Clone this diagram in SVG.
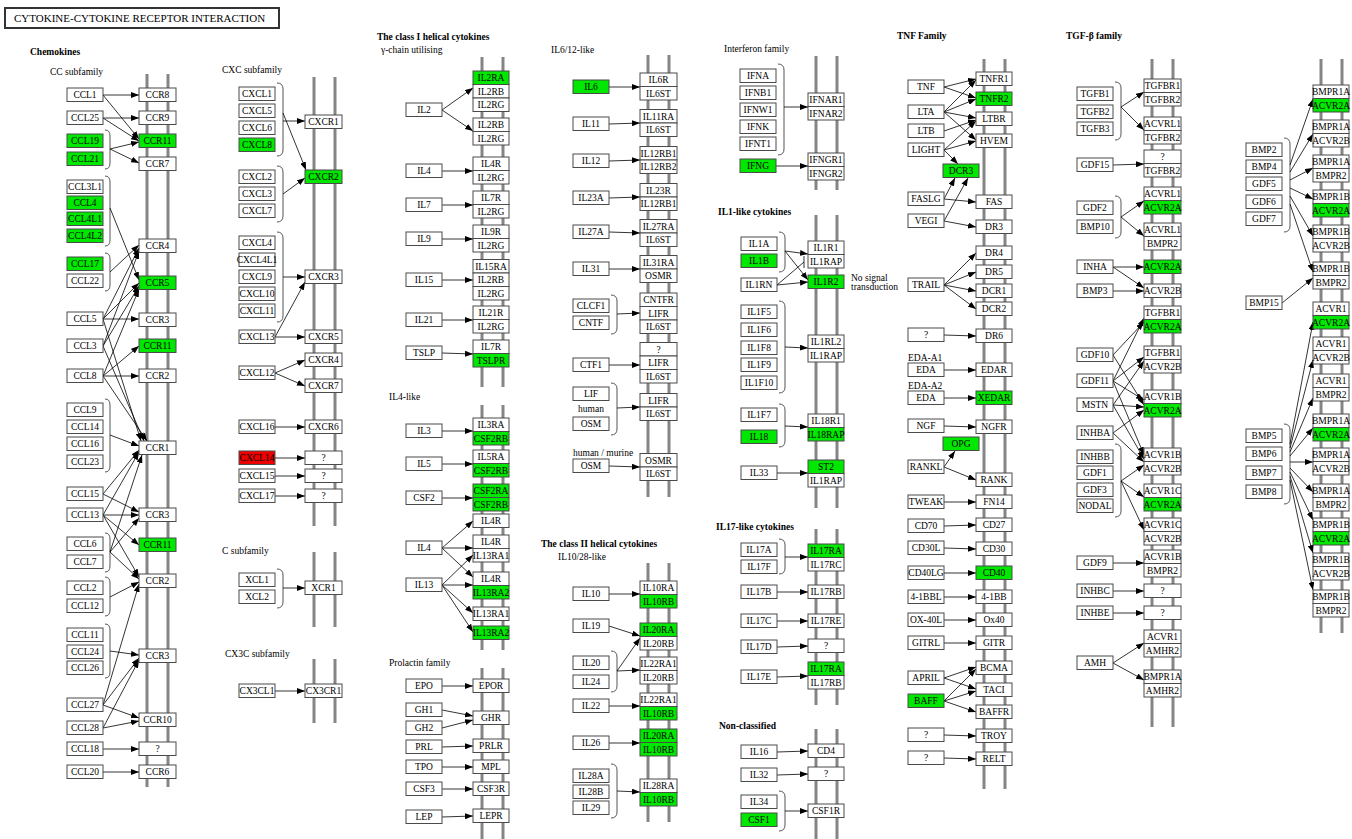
<svg xmlns="http://www.w3.org/2000/svg" width="1352" height="839" viewBox="0 0 1352 839">
<style>
rect{fill:#fff;stroke:#4a4a4a;stroke-width:1}
.g rect{fill:#00e800}
.r rect{fill:#ee0000}
text{font-family:"Liberation Serif",serif;font-size:9.5px;text-anchor:middle;fill:#000}
.lb{text-anchor:start}
.bd{text-anchor:start;font-weight:bold}
#connectors line{stroke:#000;stroke-width:0.8;marker-end:url(#ah)}
#connectors line.inh{marker-end:none}
.br path{stroke:#555;fill:none;stroke-width:1}
.mem line{stroke:#858585;stroke-width:3}
</style>
<defs>
<marker id="ah" markerWidth="8" markerHeight="6" refX="8" refY="3" orient="auto" markerUnits="userSpaceOnUse"><path d="M0,0L8,3L0,6z" fill="#000"/></marker>
</defs>
<rect width="1352" height="839" style="fill:#fff;stroke:none"/>
<g id="title"><rect x="5" y="8" width="274" height="20" style="stroke:#333;stroke-width:2"/><text class="lb" x="14" y="22" style="font-size:11px">CYTOKINE-CYTOKINE RECEPTOR INTERACTION</text></g>
<g id="labels">
<text class="bd" x="30" y="55">Chemokines</text>
<text class="lb" x="50" y="75">CC subfamily</text>
<text class="lb" x="222" y="73">CXC subfamily</text>
<text class="lb" x="222" y="554">C subfamily</text>
<text class="lb" x="225" y="657">CX3C subfamily</text>
<text class="bd" x="377" y="40">The class I helical cytokines</text>
<text class="lb" x="381" y="53">γ-chain utilising</text>
<text class="lb" x="389" y="400">IL4-like</text>
<text class="lb" x="389" y="666">Prolactin family</text>
<text class="lb" x="551" y="53">IL6/12-like</text>
<text x="591" y="412">human</text>
<text class="lb" x="573" y="456">human / murine</text>
<text class="bd" x="541" y="547">The class II helical cytokines</text>
<text class="lb" x="558" y="560">IL10/28-like</text>
<text class="lb" x="724" y="52">Interferon family</text>
<text class="bd" x="718" y="215">IL1-like cytokines</text>
<text class="lb" x="851" y="281">No signal</text>
<text class="lb" x="851" y="290">transduction</text>
<text class="bd" x="716" y="530">IL17-like cytokines</text>
<text class="bd" x="719" y="729">Non-classified</text>
<text class="bd" x="897" y="39">TNF Family</text>
<text class="lb" x="908" y="361">EDA-A1</text>
<text class="lb" x="908" y="389">EDA-A2</text>
<text class="bd" x="1066" y="39">TGF-β family</text>
</g>
<g class="mem" id="membranes">
<line x1="147" y1="74" x2="147" y2="787"/><line x1="168" y1="74" x2="168" y2="787"/>
<line x1="314" y1="77" x2="314" y2="526"/><line x1="335" y1="77" x2="335" y2="526"/>
<line x1="314" y1="552" x2="314" y2="627"/><line x1="335" y1="552" x2="335" y2="627"/>
<line x1="314" y1="659" x2="314" y2="723"/><line x1="335" y1="659" x2="335" y2="723"/>
<line x1="482" y1="57" x2="482" y2="387"/><line x1="503" y1="57" x2="503" y2="387"/>
<line x1="482" y1="405" x2="482" y2="650"/><line x1="503" y1="405" x2="503" y2="650"/>
<line x1="482" y1="668" x2="482" y2="839"/><line x1="503" y1="668" x2="503" y2="839"/>
<line x1="648" y1="55" x2="648" y2="497"/><line x1="669" y1="55" x2="669" y2="497"/>
<line x1="648" y1="563" x2="648" y2="822"/><line x1="669" y1="563" x2="669" y2="822"/>
<line x1="816" y1="56" x2="816" y2="190"/><line x1="837" y1="56" x2="837" y2="190"/>
<line x1="816" y1="215" x2="816" y2="508"/><line x1="837" y1="215" x2="837" y2="508"/>
<line x1="816" y1="529" x2="816" y2="705"/><line x1="837" y1="529" x2="837" y2="705"/>
<line x1="816" y1="729" x2="816" y2="839"/><line x1="837" y1="729" x2="837" y2="839"/>
<line x1="984" y1="59" x2="984" y2="789"/><line x1="1005" y1="59" x2="1005" y2="789"/>
<line x1="1152" y1="59" x2="1152" y2="727"/><line x1="1173" y1="59" x2="1173" y2="727"/>
<line x1="1321" y1="59" x2="1321" y2="633"/><line x1="1342" y1="59" x2="1342" y2="633"/>
</g>
<g class="br" id="brackets">
<path d="M105,130Q110,130 110,136V163Q110,169 105,169"/>
<path d="M105,176Q110,176 110,182V240Q110,246 105,246"/>
<path d="M105,253Q110,253 110,259V285Q110,291 105,291"/>
<path d="M105,399Q110,399 110,405V466Q110,472 105,472"/>
<path d="M105,533Q110,533 110,539V566Q110,572 105,572"/>
<path d="M105,577Q110,577 110,583V610Q110,616 105,616"/>
<path d="M105,624Q110,624 110,630V672Q110,678 105,678"/>
<path d="M277,83Q283,83 283,89V150Q283,156 277,156"/>
<path d="M277,166Q283,166 283,172V216Q283,222 277,222"/>
<path d="M277,232Q283,232 283,238V316Q283,322 277,322"/>
<path d="M277,569Q283,569 283,575V602Q283,608 277,608"/>
<path d="M611,295Q617,295 617,301V328Q617,334 611,334"/>
<path d="M611,383Q617,383 617,389V429Q617,435 611,435"/>
<path d="M611,651Q617,651 617,657V686Q617,692 611,692"/>
<path d="M611,764Q617,764 617,770V812Q617,818 611,818"/>
<path d="M778,64Q784,64 784,70V149Q784,155 778,155"/>
<path d="M779,232Q785,232 785,238V266Q785,272 779,272"/>
<path d="M779,301Q785,301 785,307V387Q785,393 779,393"/>
<path d="M779,404Q785,404 785,410V441Q785,447 779,447"/>
<path d="M779,539Q785,539 785,545V568Q785,574 779,574"/>
<path d="M779,791Q785,791 785,797V825Q785,831 779,831"/>
<path d="M1115,82Q1121,82 1121,88V134Q1121,140 1115,140"/>
<path d="M1115,196Q1121,196 1121,202V232Q1121,238 1115,238"/>
<path d="M1115,444Q1121,444 1121,450V511Q1121,517 1115,517"/>
<path d="M1284,138Q1290,138 1290,144V226Q1290,232 1284,232"/>
<path d="M1284,424Q1290,424 1290,430V498Q1290,504 1284,504"/>
</g>
<g id="connectors">
<line x1="103" y1="95" x2="139" y2="95"/><line x1="103" y1="95" x2="139" y2="139"/>
<line x1="103" y1="118" x2="139" y2="118"/><line x1="103" y1="118" x2="139" y2="141"/>
<line x1="110" y1="149" x2="139" y2="142"/><line x1="110" y1="149" x2="139" y2="163"/>
<line x1="110" y1="208" x2="139" y2="280"/><line x1="110" y1="272" x2="139" y2="245"/>
<line x1="103" y1="319" x2="139" y2="319"/><line x1="103" y1="319" x2="139" y2="248"/><line x1="103" y1="319" x2="139" y2="283"/><line x1="103" y1="319" x2="141" y2="441"/>
<line x1="103" y1="346" x2="139" y2="251"/><line x1="103" y1="346" x2="139" y2="286"/><line x1="103" y1="346" x2="144" y2="441"/>
<line x1="103" y1="376" x2="139" y2="376"/><line x1="103" y1="376" x2="139" y2="346"/><line x1="103" y1="376" x2="139" y2="289"/><line x1="103" y1="376" x2="147" y2="441"/>
<line x1="110" y1="435" x2="139" y2="446"/>
<line x1="103" y1="494" x2="139" y2="450"/><line x1="103" y1="494" x2="139" y2="512"/>
<line x1="103" y1="515" x2="139" y2="452"/><line x1="103" y1="515" x2="139" y2="515"/><line x1="103" y1="515" x2="139" y2="545"/><line x1="103" y1="515" x2="139" y2="577"/>
<line x1="110" y1="552" x2="142" y2="455"/><line x1="110" y1="552" x2="139" y2="518"/><line x1="110" y1="552" x2="139" y2="579"/>
<line x1="110" y1="597" x2="139" y2="582"/><line x1="110" y1="651" x2="139" y2="655"/>
<line x1="103" y1="705" x2="139" y2="584"/><line x1="103" y1="705" x2="139" y2="658"/><line x1="103" y1="705" x2="139" y2="718"/>
<line x1="103" y1="728" x2="139" y2="660"/><line x1="103" y1="728" x2="139" y2="721"/>
<line x1="103" y1="749" x2="139" y2="749"/><line x1="103" y1="772" x2="139" y2="772"/>
<line x1="283" y1="121" x2="305" y2="121"/><line x1="283" y1="113" x2="306" y2="170"/><line x1="283" y1="194" x2="305" y2="178"/><line x1="283" y1="277" x2="305" y2="277"/>
<line x1="275" y1="337" x2="305" y2="337"/><line x1="275" y1="337" x2="305" y2="282"/>
<line x1="275" y1="373" x2="305" y2="360"/><line x1="275" y1="373" x2="305" y2="386"/>
<line x1="275" y1="427" x2="305" y2="427"/><line x1="275" y1="458" x2="305" y2="458"/><line x1="275" y1="476" x2="305" y2="476"/><line x1="275" y1="496" x2="305" y2="496"/>
<line x1="283" y1="588" x2="305" y2="588"/><line x1="275" y1="691" x2="305" y2="691"/>
<line x1="442" y1="110" x2="473" y2="88"/><line x1="442" y1="110" x2="473" y2="131"/>
<line x1="442" y1="171" x2="473" y2="171"/><line x1="442" y1="205" x2="473" y2="205"/><line x1="442" y1="239" x2="473" y2="239"/><line x1="442" y1="280" x2="473" y2="280"/><line x1="442" y1="320" x2="473" y2="320"/><line x1="442" y1="353" x2="473" y2="354"/>
<line x1="442" y1="431" x2="473" y2="431"/><line x1="442" y1="464" x2="473" y2="464"/><line x1="442" y1="498" x2="473" y2="498"/>
<line x1="442" y1="548" x2="473" y2="521"/><line x1="442" y1="548" x2="473" y2="548"/><line x1="442" y1="548" x2="473" y2="577"/>
<line x1="442" y1="585" x2="473" y2="555"/><line x1="442" y1="585" x2="473" y2="585"/><line x1="442" y1="585" x2="473" y2="613"/><line x1="442" y1="585" x2="473" y2="632"/>
<line x1="442" y1="686" x2="473" y2="686"/><line x1="442" y1="710" x2="473" y2="716"/><line x1="442" y1="728" x2="473" y2="720"/><line x1="442" y1="747" x2="473" y2="746"/><line x1="442" y1="767" x2="473" y2="767"/><line x1="442" y1="789" x2="473" y2="789"/><line x1="442" y1="817" x2="473" y2="816"/>
<line x1="609" y1="87" x2="640" y2="87"/><line x1="609" y1="124" x2="640" y2="123"/><line x1="609" y1="161" x2="640" y2="160"/><line x1="609" y1="198" x2="640" y2="197"/><line x1="609" y1="232" x2="640" y2="233"/><line x1="609" y1="269" x2="640" y2="269"/>
<line x1="617" y1="314" x2="640" y2="313"/><line x1="609" y1="365" x2="640" y2="365"/><line x1="617" y1="408" x2="640" y2="407"/><line x1="609" y1="466" x2="640" y2="467"/>
<line x1="609" y1="594" x2="640" y2="594"/><line x1="609" y1="626" x2="640" y2="636"/><line x1="617" y1="671" x2="640" y2="638"/><line x1="617" y1="671" x2="640" y2="670"/><line x1="609" y1="706" x2="640" y2="706"/><line x1="609" y1="743" x2="640" y2="743"/><line x1="617" y1="791" x2="640" y2="792"/>
<line x1="784" y1="107" x2="808" y2="107"/><line x1="776" y1="166" x2="808" y2="166"/>
<line x1="785" y1="251" x2="808" y2="254"/><line x1="785" y1="251" x2="808" y2="280"/><line x1="777" y1="285" x2="808" y2="282"/>
<line class="inh" x1="777" y1="285" x2="804" y2="262"/><line class="inh" x1="804" y1="256" x2="804" y2="268"/>
<line x1="785" y1="347" x2="808" y2="348"/><line x1="785" y1="426" x2="808" y2="427"/><line x1="777" y1="473" x2="808" y2="473"/>
<line x1="785" y1="557" x2="808" y2="557"/><line x1="777" y1="592" x2="808" y2="592"/><line x1="777" y1="621" x2="808" y2="621"/><line x1="777" y1="647" x2="808" y2="646"/><line x1="777" y1="677" x2="808" y2="676"/>
<line x1="777" y1="752" x2="808" y2="751"/><line x1="777" y1="775" x2="808" y2="774"/><line x1="785" y1="811" x2="808" y2="811"/>
<line x1="944" y1="87" x2="976" y2="79"/><line x1="944" y1="87" x2="976" y2="98"/>
<line x1="944" y1="112" x2="976" y2="80"/><line x1="944" y1="112" x2="976" y2="99"/><line x1="944" y1="112" x2="976" y2="118"/><line x1="944" y1="112" x2="976" y2="140"/>
<line x1="944" y1="131" x2="976" y2="120"/>
<line x1="944" y1="150" x2="976" y2="121"/><line x1="944" y1="150" x2="976" y2="141"/><line x1="944" y1="150" x2="958" y2="164"/>
<line x1="944" y1="199" x2="955" y2="178"/><line x1="944" y1="199" x2="976" y2="202"/>
<line x1="944" y1="221" x2="968" y2="178"/><line x1="944" y1="221" x2="976" y2="227"/>
<line x1="944" y1="285" x2="976" y2="253"/><line x1="944" y1="285" x2="976" y2="272"/><line x1="944" y1="285" x2="976" y2="291"/><line x1="944" y1="285" x2="976" y2="309"/>
<line x1="944" y1="335" x2="976" y2="336"/><line x1="944" y1="370" x2="976" y2="370"/><line x1="944" y1="398" x2="976" y2="398"/><line x1="944" y1="426" x2="976" y2="427"/>
<line x1="944" y1="467" x2="955" y2="451"/><line x1="944" y1="467" x2="976" y2="480"/>
<line x1="944" y1="502" x2="976" y2="502"/><line x1="944" y1="526" x2="976" y2="525"/><line x1="944" y1="548" x2="976" y2="549"/><line x1="944" y1="573" x2="976" y2="573"/><line x1="944" y1="597" x2="976" y2="597"/><line x1="944" y1="620" x2="976" y2="620"/><line x1="944" y1="643" x2="976" y2="643"/>
<line x1="944" y1="678" x2="976" y2="667"/><line x1="944" y1="678" x2="976" y2="689"/>
<line x1="944" y1="701" x2="976" y2="669"/><line x1="944" y1="701" x2="976" y2="691"/><line x1="944" y1="701" x2="976" y2="712"/>
<line x1="944" y1="735" x2="976" y2="736"/><line x1="944" y1="758" x2="976" y2="759"/>
<line x1="1121" y1="107" x2="1144" y2="92"/><line x1="1121" y1="107" x2="1144" y2="130"/>
<line x1="1113" y1="165" x2="1144" y2="164"/>
<line x1="1121" y1="217" x2="1144" y2="201"/><line x1="1121" y1="217" x2="1144" y2="236"/>
<line x1="1113" y1="267" x2="1144" y2="267"/><line x1="1113" y1="267" x2="1144" y2="288"/><line x1="1113" y1="291" x2="1144" y2="291"/>
<line x1="1113" y1="355" x2="1144" y2="322"/><line x1="1113" y1="355" x2="1144" y2="405"/>
<line x1="1113" y1="381" x2="1144" y2="318"/><line x1="1113" y1="381" x2="1144" y2="357"/><line x1="1113" y1="381" x2="1144" y2="400"/><line x1="1113" y1="381" x2="1144" y2="455"/>
<line x1="1113" y1="405" x2="1144" y2="361"/><line x1="1113" y1="405" x2="1144" y2="407"/><line x1="1113" y1="405" x2="1144" y2="459"/>
<line x1="1113" y1="433" x2="1144" y2="410"/><line x1="1113" y1="433" x2="1144" y2="462"/>
<line x1="1121" y1="481" x2="1144" y2="465"/><line x1="1121" y1="481" x2="1144" y2="497"/><line x1="1121" y1="481" x2="1144" y2="530"/>
<line x1="1113" y1="563" x2="1144" y2="563"/><line x1="1113" y1="591" x2="1144" y2="591"/><line x1="1113" y1="613" x2="1144" y2="613"/>
<line x1="1113" y1="663" x2="1144" y2="643"/><line x1="1113" y1="663" x2="1144" y2="680"/>
<line x1="1290" y1="165" x2="1313" y2="99"/><line x1="1290" y1="172" x2="1313" y2="134"/><line x1="1290" y1="180" x2="1313" y2="168"/><line x1="1290" y1="188" x2="1313" y2="199"/><line x1="1290" y1="196" x2="1313" y2="236"/><line x1="1290" y1="204" x2="1313" y2="272"/>
<line x1="1282" y1="303" x2="1313" y2="278"/>
<line x1="1290" y1="444" x2="1313" y2="322"/><line x1="1290" y1="448" x2="1313" y2="360"/><line x1="1290" y1="452" x2="1313" y2="398"/><line x1="1290" y1="456" x2="1313" y2="428"/><line x1="1290" y1="462" x2="1313" y2="462"/><line x1="1290" y1="468" x2="1313" y2="492"/><line x1="1290" y1="472" x2="1313" y2="520"/><line x1="1290" y1="476" x2="1313" y2="553"/><line x1="1290" y1="480" x2="1313" y2="590"/>
</g>
<g id="nodes">
<g id="CCL1"><rect x="67" y="88" width="36" height="13.5"/><text x="85" y="98">CCL1</text></g>
<g id="CCL25"><rect x="67" y="111" width="36" height="13.5"/><text x="85" y="121">CCL25</text></g>
<g id="CCL19" class="g"><rect x="67" y="134" width="36" height="13.5"/><text x="85" y="144">CCL19</text></g>
<g id="CCL21" class="g"><rect x="67" y="152" width="36" height="13.5"/><text x="85" y="162">CCL21</text></g>
<g id="CCL3L1"><rect x="67" y="180" width="36" height="13.5"/><text x="85" y="190">CCL3L1</text></g>
<g id="CCL4" class="g"><rect x="67" y="196" width="36" height="13.5"/><text x="85" y="206">CCL4</text></g>
<g id="CCL4L1" class="g"><rect x="67" y="212" width="36" height="13.5"/><text x="85" y="222">CCL4L1</text></g>
<g id="CCL4L2" class="g"><rect x="67" y="229" width="36" height="13.5"/><text x="85" y="239">CCL4L2</text></g>
<g id="CCL17" class="g"><rect x="67" y="257" width="36" height="13.5"/><text x="85" y="267">CCL17</text></g>
<g id="CCL22"><rect x="67" y="274" width="36" height="13.5"/><text x="85" y="284">CCL22</text></g>
<g id="CCL5"><rect x="67" y="312" width="36" height="13.5"/><text x="85" y="322">CCL5</text></g>
<g id="CCL3"><rect x="67" y="339" width="36" height="13.5"/><text x="85" y="349">CCL3</text></g>
<g id="CCL8"><rect x="67" y="369" width="36" height="13.5"/><text x="85" y="379">CCL8</text></g>
<g id="CCL9"><rect x="67" y="403" width="36" height="13.5"/><text x="85" y="413">CCL9</text></g>
<g id="CCL14"><rect x="67" y="420" width="36" height="13.5"/><text x="85" y="430">CCL14</text></g>
<g id="CCL16"><rect x="67" y="437" width="36" height="13.5"/><text x="85" y="447">CCL16</text></g>
<g id="CCL23"><rect x="67" y="455" width="36" height="13.5"/><text x="85" y="465">CCL23</text></g>
<g id="CCL15"><rect x="67" y="487" width="36" height="13.5"/><text x="85" y="497">CCL15</text></g>
<g id="CCL13"><rect x="67" y="508" width="36" height="13.5"/><text x="85" y="518">CCL13</text></g>
<g id="CCL6"><rect x="67" y="537" width="36" height="13.5"/><text x="85" y="547">CCL6</text></g>
<g id="CCL7"><rect x="67" y="555" width="36" height="13.5"/><text x="85" y="565">CCL7</text></g>
<g id="CCL2"><rect x="67" y="581" width="36" height="13.5"/><text x="85" y="591">CCL2</text></g>
<g id="CCL12"><rect x="67" y="599" width="36" height="13.5"/><text x="85" y="609">CCL12</text></g>
<g id="CCL11"><rect x="67" y="628" width="36" height="13.5"/><text x="85" y="638">CCL11</text></g>
<g id="CCL24"><rect x="67" y="645" width="36" height="13.5"/><text x="85" y="655">CCL24</text></g>
<g id="CCL26"><rect x="67" y="661" width="36" height="13.5"/><text x="85" y="671">CCL26</text></g>
<g id="CCL27"><rect x="67" y="698" width="36" height="13.5"/><text x="85" y="708">CCL27</text></g>
<g id="CCL28"><rect x="67" y="721" width="36" height="13.5"/><text x="85" y="731">CCL28</text></g>
<g id="CCL18"><rect x="67" y="742" width="36" height="13.5"/><text x="85" y="752">CCL18</text></g>
<g id="CCL20"><rect x="67" y="765" width="36" height="13.5"/><text x="85" y="775">CCL20</text></g>
<g id="CCR8"><rect x="139" y="88" width="37" height="13.5"/><text x="157.5" y="98">CCR8</text></g>
<g id="CCR9"><rect x="139" y="111" width="37" height="13.5"/><text x="157.5" y="121">CCR9</text></g>
<g id="CCR11-a" class="g"><rect x="139" y="134" width="37" height="13.5"/><text x="157.5" y="144">CCR11</text></g>
<g id="CCR7"><rect x="139" y="157" width="37" height="13.5"/><text x="157.5" y="167">CCR7</text></g>
<g id="CCR4"><rect x="139" y="239" width="37" height="13.5"/><text x="157.5" y="249">CCR4</text></g>
<g id="CCR5" class="g"><rect x="139" y="276" width="37" height="13.5"/><text x="157.5" y="286">CCR5</text></g>
<g id="CCR3-a"><rect x="139" y="313" width="37" height="13.5"/><text x="157.5" y="323">CCR3</text></g>
<g id="CCR11-b" class="g"><rect x="139" y="339" width="37" height="13.5"/><text x="157.5" y="349">CCR11</text></g>
<g id="CCR2-a"><rect x="139" y="369" width="37" height="13.5"/><text x="157.5" y="379">CCR2</text></g>
<g id="CCR1"><rect x="139" y="441" width="37" height="13.5"/><text x="157.5" y="451">CCR1</text></g>
<g id="CCR3-b"><rect x="139" y="508" width="37" height="13.5"/><text x="157.5" y="518">CCR3</text></g>
<g id="CCR11-c" class="g"><rect x="139" y="538" width="37" height="13.5"/><text x="157.5" y="548">CCR11</text></g>
<g id="CCR2-b"><rect x="139" y="574" width="37" height="13.5"/><text x="157.5" y="584">CCR2</text></g>
<g id="CCR3-c"><rect x="139" y="649" width="37" height="13.5"/><text x="157.5" y="659">CCR3</text></g>
<g id="CCR10"><rect x="139" y="713" width="37" height="13.5"/><text x="157.5" y="723">CCR10</text></g>
<g id="CCRq"><rect x="139" y="742" width="37" height="13.5"/><text x="157.5" y="752">?</text></g>
<g id="CCR6"><rect x="139" y="765" width="37" height="13.5"/><text x="157.5" y="775">CCR6</text></g>
<g id="CXCL1"><rect x="239" y="87" width="36" height="13.5"/><text x="257" y="97">CXCL1</text></g>
<g id="CXCL5"><rect x="239" y="104" width="36" height="13.5"/><text x="257" y="114">CXCL5</text></g>
<g id="CXCL6"><rect x="239" y="121" width="36" height="13.5"/><text x="257" y="131">CXCL6</text></g>
<g id="CXCL8" class="g"><rect x="239" y="138" width="36" height="13.5"/><text x="257" y="148">CXCL8</text></g>
<g id="CXCL2"><rect x="239" y="170" width="36" height="13.5"/><text x="257" y="180">CXCL2</text></g>
<g id="CXCL3"><rect x="239" y="187" width="36" height="13.5"/><text x="257" y="197">CXCL3</text></g>
<g id="CXCL7"><rect x="239" y="204" width="36" height="13.5"/><text x="257" y="214">CXCL7</text></g>
<g id="CXCL4"><rect x="239" y="236" width="36" height="13.5"/><text x="257" y="246">CXCL4</text></g>
<g id="CXCL4L1"><rect x="239" y="253" width="36" height="13.5"/><text x="257" y="263">CXCL4L1</text></g>
<g id="CXCL9"><rect x="239" y="270" width="36" height="13.5"/><text x="257" y="280">CXCL9</text></g>
<g id="CXCL10"><rect x="239" y="287" width="36" height="13.5"/><text x="257" y="297">CXCL10</text></g>
<g id="CXCL11"><rect x="239" y="304" width="36" height="13.5"/><text x="257" y="314">CXCL11</text></g>
<g id="CXCL13"><rect x="239" y="330" width="36" height="13.5"/><text x="257" y="340">CXCL13</text></g>
<g id="CXCL12"><rect x="239" y="366" width="36" height="13.5"/><text x="257" y="376">CXCL12</text></g>
<g id="CXCL16"><rect x="239" y="420" width="36" height="13.5"/><text x="257" y="430">CXCL16</text></g>
<g id="CXCL14" class="r"><rect x="239" y="451" width="36" height="13.5"/><text x="257" y="461">CXCL14</text></g>
<g id="CXCL15"><rect x="239" y="469" width="36" height="13.5"/><text x="257" y="479">CXCL15</text></g>
<g id="CXCL17"><rect x="239" y="489" width="36" height="13.5"/><text x="257" y="499">CXCL17</text></g>
<g id="CXCR1"><rect x="305" y="115" width="37" height="13.5"/><text x="323.5" y="125">CXCR1</text></g>
<g id="CXCR2" class="g"><rect x="305" y="170" width="37" height="13.5"/><text x="323.5" y="180">CXCR2</text></g>
<g id="CXCR3"><rect x="305" y="270" width="37" height="13.5"/><text x="323.5" y="280">CXCR3</text></g>
<g id="CXCR5"><rect x="305" y="330" width="37" height="13.5"/><text x="323.5" y="340">CXCR5</text></g>
<g id="CXCR4"><rect x="305" y="353" width="37" height="13.5"/><text x="323.5" y="363">CXCR4</text></g>
<g id="CXCR7"><rect x="305" y="379" width="37" height="13.5"/><text x="323.5" y="389">CXCR7</text></g>
<g id="CXCR6"><rect x="305" y="420" width="37" height="13.5"/><text x="323.5" y="430">CXCR6</text></g>
<g id="CXCRq1"><rect x="305" y="451" width="37" height="13.5"/><text x="323.5" y="461">?</text></g>
<g id="CXCRq2"><rect x="305" y="469" width="37" height="13.5"/><text x="323.5" y="479">?</text></g>
<g id="CXCRq3"><rect x="305" y="489" width="37" height="13.5"/><text x="323.5" y="499">?</text></g>
<g id="XCL1"><rect x="239" y="573" width="36" height="13.5"/><text x="257" y="583">XCL1</text></g>
<g id="XCL2"><rect x="239" y="590" width="36" height="13.5"/><text x="257" y="600">XCL2</text></g>
<g id="XCR1"><rect x="305" y="581" width="37" height="13.5"/><text x="323.5" y="591">XCR1</text></g>
<g id="CX3CL1"><rect x="239" y="684" width="36" height="13.5"/><text x="257" y="694">CX3CL1</text></g>
<g id="CX3CR1"><rect x="305" y="684" width="37" height="13.5"/><text x="323.5" y="694">CX3CR1</text></g>
<g id="IL2"><rect x="406" y="103" width="36" height="13.5"/><text x="424" y="113">IL2</text></g>
<g id="IL4-a"><rect x="406" y="164" width="36" height="13.5"/><text x="424" y="174">IL4</text></g>
<g id="IL7"><rect x="406" y="198" width="36" height="13.5"/><text x="424" y="208">IL7</text></g>
<g id="IL9"><rect x="406" y="232" width="36" height="13.5"/><text x="424" y="242">IL9</text></g>
<g id="IL15"><rect x="406" y="273" width="36" height="13.5"/><text x="424" y="283">IL15</text></g>
<g id="IL21"><rect x="406" y="313" width="36" height="13.5"/><text x="424" y="323">IL21</text></g>
<g id="TSLP"><rect x="406" y="346" width="36" height="13.5"/><text x="424" y="356">TSLP</text></g>
<g id="IL3"><rect x="406" y="424" width="36" height="13.5"/><text x="424" y="434">IL3</text></g>
<g id="IL5"><rect x="406" y="457" width="36" height="13.5"/><text x="424" y="467">IL5</text></g>
<g id="CSF2"><rect x="406" y="491" width="36" height="13.5"/><text x="424" y="501">CSF2</text></g>
<g id="IL4-b"><rect x="406" y="541" width="36" height="13.5"/><text x="424" y="551">IL4</text></g>
<g id="IL13"><rect x="406" y="578" width="36" height="13.5"/><text x="424" y="588">IL13</text></g>
<g id="EPO"><rect x="406" y="679" width="36" height="13.5"/><text x="424" y="689">EPO</text></g>
<g id="GH1"><rect x="406" y="703" width="36" height="13.5"/><text x="424" y="713">GH1</text></g>
<g id="GH2"><rect x="406" y="721" width="36" height="13.5"/><text x="424" y="731">GH2</text></g>
<g id="PRL"><rect x="406" y="740" width="36" height="13.5"/><text x="424" y="750">PRL</text></g>
<g id="TPO"><rect x="406" y="760" width="36" height="13.5"/><text x="424" y="770">TPO</text></g>
<g id="CSF3"><rect x="406" y="782" width="36" height="13.5"/><text x="424" y="792">CSF3</text></g>
<g id="LEP"><rect x="406" y="810" width="36" height="13.5"/><text x="424" y="820">LEP</text></g>
<g id="IL2RA" class="g"><rect x="473" y="71" width="36" height="13.5"/><text x="491" y="81">IL2RA</text></g>
<g id="IL2RB-a"><rect x="473" y="84.5" width="36" height="13.5"/><text x="491" y="94.5">IL2RB</text></g>
<g id="IL2RG-a"><rect x="473" y="98" width="36" height="13.5"/><text x="491" y="108">IL2RG</text></g>
<g id="IL2RB-b"><rect x="473" y="118" width="36" height="13.5"/><text x="491" y="128">IL2RB</text></g>
<g id="IL2RG-b"><rect x="473" y="131.5" width="36" height="13.5"/><text x="491" y="141.5">IL2RG</text></g>
<g id="IL4R-a"><rect x="473" y="157" width="36" height="13.5"/><text x="491" y="167">IL4R</text></g>
<g id="IL2RG-c"><rect x="473" y="170.5" width="36" height="13.5"/><text x="491" y="180.5">IL2RG</text></g>
<g id="IL7R-a"><rect x="473" y="191" width="36" height="13.5"/><text x="491" y="201">IL7R</text></g>
<g id="IL2RG-d"><rect x="473" y="204.5" width="36" height="13.5"/><text x="491" y="214.5">IL2RG</text></g>
<g id="IL9R"><rect x="473" y="225" width="36" height="13.5"/><text x="491" y="235">IL9R</text></g>
<g id="IL2RG-e"><rect x="473" y="238.5" width="36" height="13.5"/><text x="491" y="248.5">IL2RG</text></g>
<g id="IL15RA"><rect x="473" y="259.5" width="36" height="13.5"/><text x="491" y="269.5">IL15RA</text></g>
<g id="IL2RB-c"><rect x="473" y="273" width="36" height="13.5"/><text x="491" y="283">IL2RB</text></g>
<g id="IL2RG-f"><rect x="473" y="286.5" width="36" height="13.5"/><text x="491" y="296.5">IL2RG</text></g>
<g id="IL21R"><rect x="473" y="306" width="36" height="13.5"/><text x="491" y="316">IL21R</text></g>
<g id="IL2RG-g"><rect x="473" y="319.5" width="36" height="13.5"/><text x="491" y="329.5">IL2RG</text></g>
<g id="IL7R-b"><rect x="473" y="340" width="36" height="13.5"/><text x="491" y="350">IL7R</text></g>
<g id="TSLPR" class="g"><rect x="473" y="353.5" width="36" height="13.5"/><text x="491" y="363.5">TSLPR</text></g>
<g id="IL3RA"><rect x="473" y="418" width="36" height="13.5"/><text x="491" y="428">IL3RA</text></g>
<g id="CSF2RB-a" class="g"><rect x="473" y="431.5" width="36" height="13.5"/><text x="491" y="441.5">CSF2RB</text></g>
<g id="IL5RA"><rect x="473" y="450" width="36" height="13.5"/><text x="491" y="460">IL5RA</text></g>
<g id="CSF2RB-b" class="g"><rect x="473" y="463.5" width="36" height="13.5"/><text x="491" y="473.5">CSF2RB</text></g>
<g id="CSF2RA" class="g"><rect x="473" y="484" width="36" height="13.5"/><text x="491" y="494">CSF2RA</text></g>
<g id="CSF2RB-c" class="g"><rect x="473" y="497.5" width="36" height="13.5"/><text x="491" y="507.5">CSF2RB</text></g>
<g id="IL4R-b"><rect x="473" y="514" width="36" height="13.5"/><text x="491" y="524">IL4R</text></g>
<g id="IL4R-c"><rect x="473" y="535" width="36" height="13.5"/><text x="491" y="545">IL4R</text></g>
<g id="IL13RA1-a"><rect x="473" y="548.5" width="36" height="13.5"/><text x="491" y="558.5">IL13RA1</text></g>
<g id="IL4R-d"><rect x="473" y="572" width="36" height="13.5"/><text x="491" y="582">IL4R</text></g>
<g id="IL13RA2-a" class="g"><rect x="473" y="585.5" width="36" height="13.5"/><text x="491" y="595.5">IL13RA2</text></g>
<g id="IL13RA1-b"><rect x="473" y="607" width="36" height="13.5"/><text x="491" y="617">IL13RA1</text></g>
<g id="IL13RA2-b" class="g"><rect x="473" y="626" width="36" height="13.5"/><text x="491" y="636">IL13RA2</text></g>
<g id="EPOR"><rect x="473" y="679" width="36" height="13.5"/><text x="491" y="689">EPOR</text></g>
<g id="GHR"><rect x="473" y="711" width="36" height="13.5"/><text x="491" y="721">GHR</text></g>
<g id="PRLR"><rect x="473" y="739" width="36" height="13.5"/><text x="491" y="749">PRLR</text></g>
<g id="MPL"><rect x="473" y="760" width="36" height="13.5"/><text x="491" y="770">MPL</text></g>
<g id="CSF3R"><rect x="473" y="782" width="36" height="13.5"/><text x="491" y="792">CSF3R</text></g>
<g id="LEPR"><rect x="473" y="809" width="36" height="13.5"/><text x="491" y="819">LEPR</text></g>
<g id="IL6" class="g"><rect x="573" y="80" width="36" height="13.5"/><text x="591" y="90">IL6</text></g>
<g id="IL11"><rect x="573" y="117" width="36" height="13.5"/><text x="591" y="127">IL11</text></g>
<g id="IL12"><rect x="573" y="154" width="36" height="13.5"/><text x="591" y="164">IL12</text></g>
<g id="IL23A"><rect x="573" y="191" width="36" height="13.5"/><text x="591" y="201">IL23A</text></g>
<g id="IL27A"><rect x="573" y="225" width="36" height="13.5"/><text x="591" y="235">IL27A</text></g>
<g id="IL31"><rect x="573" y="262" width="36" height="13.5"/><text x="591" y="272">IL31</text></g>
<g id="CLCF1"><rect x="573" y="299" width="36" height="13.5"/><text x="591" y="309">CLCF1</text></g>
<g id="CNTF"><rect x="573" y="316" width="36" height="13.5"/><text x="591" y="326">CNTF</text></g>
<g id="CTF1"><rect x="573" y="358" width="36" height="13.5"/><text x="591" y="368">CTF1</text></g>
<g id="LIF"><rect x="573" y="387" width="36" height="13.5"/><text x="591" y="397">LIF</text></g>
<g id="OSM-a"><rect x="573" y="417" width="36" height="13.5"/><text x="591" y="427">OSM</text></g>
<g id="OSM-b"><rect x="573" y="459" width="36" height="13.5"/><text x="591" y="469">OSM</text></g>
<g id="IL6R"><rect x="640" y="73" width="37" height="13.5"/><text x="658.5" y="83">IL6R</text></g>
<g id="IL6ST-a"><rect x="640" y="86.5" width="37" height="13.5"/><text x="658.5" y="96.5">IL6ST</text></g>
<g id="IL11RA"><rect x="640" y="109.5" width="37" height="13.5"/><text x="658.5" y="119.5">IL11RA</text></g>
<g id="IL6ST-b"><rect x="640" y="123" width="37" height="13.5"/><text x="658.5" y="133">IL6ST</text></g>
<g id="IL12RB1-a"><rect x="640" y="146.5" width="37" height="13.5"/><text x="658.5" y="156.5">IL12RB1</text></g>
<g id="IL12RB2"><rect x="640" y="160" width="37" height="13.5"/><text x="658.5" y="170">IL12RB2</text></g>
<g id="IL23R"><rect x="640" y="183.5" width="37" height="13.5"/><text x="658.5" y="193.5">IL23R</text></g>
<g id="IL12RB1-b"><rect x="640" y="197" width="37" height="13.5"/><text x="658.5" y="207">IL12RB1</text></g>
<g id="IL27RA"><rect x="640" y="219.5" width="37" height="13.5"/><text x="658.5" y="229.5">IL27RA</text></g>
<g id="IL6ST-c"><rect x="640" y="233" width="37" height="13.5"/><text x="658.5" y="243">IL6ST</text></g>
<g id="IL31RA"><rect x="640" y="255.5" width="37" height="13.5"/><text x="658.5" y="265.5">IL31RA</text></g>
<g id="OSMR-a"><rect x="640" y="269" width="37" height="13.5"/><text x="658.5" y="279">OSMR</text></g>
<g id="CNTFR"><rect x="640" y="293" width="37" height="13.5"/><text x="658.5" y="303">CNTFR</text></g>
<g id="LIFR-a"><rect x="640" y="306.5" width="37" height="13.5"/><text x="658.5" y="316.5">LIFR</text></g>
<g id="IL6ST-d"><rect x="640" y="320" width="37" height="13.5"/><text x="658.5" y="330">IL6ST</text></g>
<g id="IL6q"><rect x="640" y="342.5" width="37" height="13.5"/><text x="658.5" y="352.5">?</text></g>
<g id="LIFR-b"><rect x="640" y="356" width="37" height="13.5"/><text x="658.5" y="366">LIFR</text></g>
<g id="IL6ST-e"><rect x="640" y="369.5" width="37" height="13.5"/><text x="658.5" y="379.5">IL6ST</text></g>
<g id="LIFR-c"><rect x="640" y="393.5" width="37" height="13.5"/><text x="658.5" y="403.5">LIFR</text></g>
<g id="IL6ST-f"><rect x="640" y="407" width="37" height="13.5"/><text x="658.5" y="417">IL6ST</text></g>
<g id="OSMR-b"><rect x="640" y="453.5" width="37" height="13.5"/><text x="658.5" y="463.5">OSMR</text></g>
<g id="IL6ST-g"><rect x="640" y="467" width="37" height="13.5"/><text x="658.5" y="477">IL6ST</text></g>
<g id="IL10"><rect x="573" y="587" width="36" height="13.5"/><text x="591" y="597">IL10</text></g>
<g id="IL19"><rect x="573" y="619" width="36" height="13.5"/><text x="591" y="629">IL19</text></g>
<g id="IL20"><rect x="573" y="656" width="36" height="13.5"/><text x="591" y="666">IL20</text></g>
<g id="IL24"><rect x="573" y="675" width="36" height="13.5"/><text x="591" y="685">IL24</text></g>
<g id="IL22"><rect x="573" y="699" width="36" height="13.5"/><text x="591" y="709">IL22</text></g>
<g id="IL26"><rect x="573" y="736" width="36" height="13.5"/><text x="591" y="746">IL26</text></g>
<g id="IL28A"><rect x="573" y="769" width="36" height="13.5"/><text x="591" y="779">IL28A</text></g>
<g id="IL28B"><rect x="573" y="785" width="36" height="13.5"/><text x="591" y="795">IL28B</text></g>
<g id="IL29"><rect x="573" y="801" width="36" height="13.5"/><text x="591" y="811">IL29</text></g>
<g id="IL10RA"><rect x="640" y="581" width="37" height="13.5"/><text x="658.5" y="591">IL10RA</text></g>
<g id="IL10RB-a" class="g"><rect x="640" y="594.5" width="37" height="13.5"/><text x="658.5" y="604.5">IL10RB</text></g>
<g id="IL20RA-a" class="g"><rect x="640" y="623" width="37" height="13.5"/><text x="658.5" y="633">IL20RA</text></g>
<g id="IL20RB-a"><rect x="640" y="636.5" width="37" height="13.5"/><text x="658.5" y="646.5">IL20RB</text></g>
<g id="IL22RA1-a"><rect x="640" y="657" width="37" height="13.5"/><text x="658.5" y="667">IL22RA1</text></g>
<g id="IL20RB-b"><rect x="640" y="670.5" width="37" height="13.5"/><text x="658.5" y="680.5">IL20RB</text></g>
<g id="IL22RA1-b"><rect x="640" y="693" width="37" height="13.5"/><text x="658.5" y="703">IL22RA1</text></g>
<g id="IL10RB-b" class="g"><rect x="640" y="706.5" width="37" height="13.5"/><text x="658.5" y="716.5">IL10RB</text></g>
<g id="IL20RA-b" class="g"><rect x="640" y="729" width="37" height="13.5"/><text x="658.5" y="739">IL20RA</text></g>
<g id="IL10RB-c" class="g"><rect x="640" y="742.5" width="37" height="13.5"/><text x="658.5" y="752.5">IL10RB</text></g>
<g id="IL28RA"><rect x="640" y="779" width="37" height="13.5"/><text x="658.5" y="789">IL28RA</text></g>
<g id="IL10RB-d" class="g"><rect x="640" y="792.5" width="37" height="13.5"/><text x="658.5" y="802.5">IL10RB</text></g>
<g id="IFNA"><rect x="740" y="69" width="36" height="13.5"/><text x="758" y="79">IFNA</text></g>
<g id="IFNB1"><rect x="740" y="86" width="36" height="13.5"/><text x="758" y="96">IFNB1</text></g>
<g id="IFNW1"><rect x="740" y="103" width="36" height="13.5"/><text x="758" y="113">IFNW1</text></g>
<g id="IFNK"><rect x="740" y="120" width="36" height="13.5"/><text x="758" y="130">IFNK</text></g>
<g id="IFNT1"><rect x="740" y="137" width="36" height="13.5"/><text x="758" y="147">IFNT1</text></g>
<g id="IFNG" class="g"><rect x="740" y="159" width="36" height="13.5"/><text x="758" y="169">IFNG</text></g>
<g id="IFNAR1"><rect x="808" y="93" width="36" height="13.5"/><text x="826" y="103">IFNAR1</text></g>
<g id="IFNAR2"><rect x="808" y="106.5" width="36" height="13.5"/><text x="826" y="116.5">IFNAR2</text></g>
<g id="IFNGR1"><rect x="808" y="153" width="36" height="13.5"/><text x="826" y="163">IFNGR1</text></g>
<g id="IFNGR2"><rect x="808" y="166.5" width="36" height="13.5"/><text x="826" y="176.5">IFNGR2</text></g>
<g id="IL1A"><rect x="741" y="237" width="36" height="13.5"/><text x="759" y="247">IL1A</text></g>
<g id="IL1B" class="g"><rect x="741" y="254" width="36" height="13.5"/><text x="759" y="264">IL1B</text></g>
<g id="IL1RN"><rect x="741" y="278" width="36" height="13.5"/><text x="759" y="288">IL1RN</text></g>
<g id="IL1F5"><rect x="741" y="305" width="36" height="13.5"/><text x="759" y="315">IL1F5</text></g>
<g id="IL1F6"><rect x="741" y="323" width="36" height="13.5"/><text x="759" y="333">IL1F6</text></g>
<g id="IL1F8"><rect x="741" y="341" width="36" height="13.5"/><text x="759" y="351">IL1F8</text></g>
<g id="IL1F9"><rect x="741" y="358" width="36" height="13.5"/><text x="759" y="368">IL1F9</text></g>
<g id="IL1F10"><rect x="741" y="376" width="36" height="13.5"/><text x="759" y="386">IL1F10</text></g>
<g id="IL1F7"><rect x="741" y="408" width="36" height="13.5"/><text x="759" y="418">IL1F7</text></g>
<g id="IL18" class="g"><rect x="741" y="430" width="36" height="13.5"/><text x="759" y="440">IL18</text></g>
<g id="IL33"><rect x="741" y="466" width="36" height="13.5"/><text x="759" y="476">IL33</text></g>
<g id="IL1R1"><rect x="808" y="241" width="36" height="13.5"/><text x="826" y="251">IL1R1</text></g>
<g id="IL1RAP-a"><rect x="808" y="254.5" width="36" height="13.5"/><text x="826" y="264.5">IL1RAP</text></g>
<g id="IL1R2" class="g"><rect x="808" y="275" width="36" height="13.5"/><text x="826" y="285">IL1R2</text></g>
<g id="IL1RL2"><rect x="808" y="335" width="36" height="13.5"/><text x="826" y="345">IL1RL2</text></g>
<g id="IL1RAP-b"><rect x="808" y="348.5" width="36" height="13.5"/><text x="826" y="358.5">IL1RAP</text></g>
<g id="IL18R1"><rect x="808" y="414" width="36" height="13.5"/><text x="826" y="424">IL18R1</text></g>
<g id="IL18RAP" class="g"><rect x="808" y="427.5" width="36" height="13.5"/><text x="826" y="437.5">IL18RAP</text></g>
<g id="ST2" class="g"><rect x="808" y="460" width="36" height="13.5"/><text x="826" y="470">ST2</text></g>
<g id="IL1RAP-c"><rect x="808" y="473.5" width="36" height="13.5"/><text x="826" y="483.5">IL1RAP</text></g>
<g id="IL17A"><rect x="741" y="543" width="36" height="13.5"/><text x="759" y="553">IL17A</text></g>
<g id="IL17F"><rect x="741" y="560" width="36" height="13.5"/><text x="759" y="570">IL17F</text></g>
<g id="IL17B"><rect x="741" y="585" width="36" height="13.5"/><text x="759" y="595">IL17B</text></g>
<g id="IL17C"><rect x="741" y="614" width="36" height="13.5"/><text x="759" y="624">IL17C</text></g>
<g id="IL17D"><rect x="741" y="640" width="36" height="13.5"/><text x="759" y="650">IL17D</text></g>
<g id="IL17E"><rect x="741" y="670" width="36" height="13.5"/><text x="759" y="680">IL17E</text></g>
<g id="IL17RA-a" class="g"><rect x="808" y="544" width="36" height="13.5"/><text x="826" y="554">IL17RA</text></g>
<g id="IL17RC"><rect x="808" y="557.5" width="36" height="13.5"/><text x="826" y="567.5">IL17RC</text></g>
<g id="IL17RB-a"><rect x="808" y="585" width="36" height="13.5"/><text x="826" y="595">IL17RB</text></g>
<g id="IL17RE"><rect x="808" y="614" width="36" height="13.5"/><text x="826" y="624">IL17RE</text></g>
<g id="IL17q"><rect x="808" y="639" width="36" height="13.5"/><text x="826" y="649">?</text></g>
<g id="IL17RA-b" class="g"><rect x="808" y="662" width="36" height="13.5"/><text x="826" y="672">IL17RA</text></g>
<g id="IL17RB-b"><rect x="808" y="675.5" width="36" height="13.5"/><text x="826" y="685.5">IL17RB</text></g>
<g id="IL16"><rect x="741" y="745" width="36" height="13.5"/><text x="759" y="755">IL16</text></g>
<g id="IL32"><rect x="741" y="768" width="36" height="13.5"/><text x="759" y="778">IL32</text></g>
<g id="IL34"><rect x="741" y="795" width="36" height="13.5"/><text x="759" y="805">IL34</text></g>
<g id="CSF1" class="g"><rect x="741" y="813" width="36" height="13.5"/><text x="759" y="823">CSF1</text></g>
<g id="CD4"><rect x="808" y="744" width="36" height="13.5"/><text x="826" y="754">CD4</text></g>
<g id="NCq"><rect x="808" y="767" width="36" height="13.5"/><text x="826" y="777">?</text></g>
<g id="CSF1R"><rect x="808" y="804" width="36" height="13.5"/><text x="826" y="814">CSF1R</text></g>
<g id="TNF"><rect x="908" y="80" width="36" height="13.5"/><text x="926" y="90">TNF</text></g>
<g id="LTA"><rect x="908" y="105" width="36" height="13.5"/><text x="926" y="115">LTA</text></g>
<g id="LTB"><rect x="908" y="124" width="36" height="13.5"/><text x="926" y="134">LTB</text></g>
<g id="LIGHT"><rect x="908" y="143" width="36" height="13.5"/><text x="926" y="153">LIGHT</text></g>
<g id="FASLG"><rect x="908" y="192" width="36" height="13.5"/><text x="926" y="202">FASLG</text></g>
<g id="VEGI"><rect x="908" y="214" width="36" height="13.5"/><text x="926" y="224">VEGI</text></g>
<g id="TRAIL"><rect x="908" y="278" width="36" height="13.5"/><text x="926" y="288">TRAIL</text></g>
<g id="TNFq-a"><rect x="908" y="328" width="36" height="13.5"/><text x="926" y="338">?</text></g>
<g id="EDA-a"><rect x="908" y="363" width="36" height="13.5"/><text x="926" y="373">EDA</text></g>
<g id="EDA-b"><rect x="908" y="391" width="36" height="13.5"/><text x="926" y="401">EDA</text></g>
<g id="NGF"><rect x="908" y="419" width="36" height="13.5"/><text x="926" y="429">NGF</text></g>
<g id="RANKL"><rect x="908" y="460" width="36" height="13.5"/><text x="926" y="470">RANKL</text></g>
<g id="TWEAK"><rect x="908" y="495" width="36" height="13.5"/><text x="926" y="505">TWEAK</text></g>
<g id="CD70"><rect x="908" y="519" width="36" height="13.5"/><text x="926" y="529">CD70</text></g>
<g id="CD30L"><rect x="908" y="541" width="36" height="13.5"/><text x="926" y="551">CD30L</text></g>
<g id="CD40LG"><rect x="908" y="566" width="36" height="13.5"/><text x="926" y="576">CD40LG</text></g>
<g id="4-1BBL"><rect x="908" y="590" width="36" height="13.5"/><text x="926" y="600">4-1BBL</text></g>
<g id="OX-40L"><rect x="908" y="613" width="36" height="13.5"/><text x="926" y="623">OX-40L</text></g>
<g id="GITRL"><rect x="908" y="636" width="36" height="13.5"/><text x="926" y="646">GITRL</text></g>
<g id="APRIL"><rect x="908" y="671" width="36" height="13.5"/><text x="926" y="681">APRIL</text></g>
<g id="BAFF" class="g"><rect x="908" y="694" width="36" height="13.5"/><text x="926" y="704">BAFF</text></g>
<g id="TNFq-b"><rect x="908" y="728" width="36" height="13.5"/><text x="926" y="738">?</text></g>
<g id="TNFq-c"><rect x="908" y="751" width="36" height="13.5"/><text x="926" y="761">?</text></g>
<g id="DCR3" class="g"><rect x="943" y="164" width="36" height="13.5"/><text x="961" y="174">DCR3</text></g>
<g id="OPG" class="g"><rect x="943" y="437" width="36" height="13.5"/><text x="961" y="447">OPG</text></g>
<g id="TNFR1"><rect x="976" y="72" width="36" height="13.5"/><text x="994" y="82">TNFR1</text></g>
<g id="TNFR2" class="g"><rect x="976" y="92" width="36" height="13.5"/><text x="994" y="102">TNFR2</text></g>
<g id="LTBR"><rect x="976" y="112" width="36" height="13.5"/><text x="994" y="122">LTBR</text></g>
<g id="HVEM"><rect x="976" y="134" width="36" height="13.5"/><text x="994" y="144">HVEM</text></g>
<g id="FAS"><rect x="976" y="195" width="36" height="13.5"/><text x="994" y="205">FAS</text></g>
<g id="DR3"><rect x="976" y="220" width="36" height="13.5"/><text x="994" y="230">DR3</text></g>
<g id="DR4"><rect x="976" y="246" width="36" height="13.5"/><text x="994" y="256">DR4</text></g>
<g id="DR5"><rect x="976" y="265" width="36" height="13.5"/><text x="994" y="275">DR5</text></g>
<g id="DCR1"><rect x="976" y="284" width="36" height="13.5"/><text x="994" y="294">DCR1</text></g>
<g id="DCR2"><rect x="976" y="302" width="36" height="13.5"/><text x="994" y="312">DCR2</text></g>
<g id="DR6"><rect x="976" y="329" width="36" height="13.5"/><text x="994" y="339">DR6</text></g>
<g id="EDAR"><rect x="976" y="363" width="36" height="13.5"/><text x="994" y="373">EDAR</text></g>
<g id="XEDAR" class="g"><rect x="976" y="391" width="36" height="13.5"/><text x="994" y="401">XEDAR</text></g>
<g id="NGFR"><rect x="976" y="420" width="36" height="13.5"/><text x="994" y="430">NGFR</text></g>
<g id="RANK"><rect x="976" y="473" width="36" height="13.5"/><text x="994" y="483">RANK</text></g>
<g id="FN14"><rect x="976" y="495" width="36" height="13.5"/><text x="994" y="505">FN14</text></g>
<g id="CD27"><rect x="976" y="518" width="36" height="13.5"/><text x="994" y="528">CD27</text></g>
<g id="CD30"><rect x="976" y="542" width="36" height="13.5"/><text x="994" y="552">CD30</text></g>
<g id="CD40" class="g"><rect x="976" y="566" width="36" height="13.5"/><text x="994" y="576">CD40</text></g>
<g id="4-1BB"><rect x="976" y="590" width="36" height="13.5"/><text x="994" y="600">4-1BB</text></g>
<g id="Ox40"><rect x="976" y="613" width="36" height="13.5"/><text x="994" y="623">Ox40</text></g>
<g id="GITR"><rect x="976" y="636" width="36" height="13.5"/><text x="994" y="646">GITR</text></g>
<g id="BCMA"><rect x="976" y="661" width="36" height="13.5"/><text x="994" y="671">BCMA</text></g>
<g id="TACI"><rect x="976" y="683" width="36" height="13.5"/><text x="994" y="693">TACI</text></g>
<g id="BAFFR"><rect x="976" y="705" width="36" height="13.5"/><text x="994" y="715">BAFFR</text></g>
<g id="TROY"><rect x="976" y="729" width="36" height="13.5"/><text x="994" y="739">TROY</text></g>
<g id="RELT"><rect x="976" y="752" width="36" height="13.5"/><text x="994" y="762">RELT</text></g>
<g id="TGFB1"><rect x="1077" y="87" width="36" height="13.5"/><text x="1095" y="97">TGFB1</text></g>
<g id="TGFB2"><rect x="1077" y="105" width="36" height="13.5"/><text x="1095" y="115">TGFB2</text></g>
<g id="TGFB3"><rect x="1077" y="122" width="36" height="13.5"/><text x="1095" y="132">TGFB3</text></g>
<g id="GDF15"><rect x="1077" y="158" width="36" height="13.5"/><text x="1095" y="168">GDF15</text></g>
<g id="GDF2"><rect x="1077" y="201" width="36" height="13.5"/><text x="1095" y="211">GDF2</text></g>
<g id="BMP10"><rect x="1077" y="220" width="36" height="13.5"/><text x="1095" y="230">BMP10</text></g>
<g id="INHA"><rect x="1077" y="260" width="36" height="13.5"/><text x="1095" y="270">INHA</text></g>
<g id="BMP3"><rect x="1077" y="284" width="36" height="13.5"/><text x="1095" y="294">BMP3</text></g>
<g id="GDF10"><rect x="1077" y="348" width="36" height="13.5"/><text x="1095" y="358">GDF10</text></g>
<g id="GDF11"><rect x="1077" y="374" width="36" height="13.5"/><text x="1095" y="384">GDF11</text></g>
<g id="MSTN"><rect x="1077" y="398" width="36" height="13.5"/><text x="1095" y="408">MSTN</text></g>
<g id="INHBA"><rect x="1077" y="426" width="36" height="13.5"/><text x="1095" y="436">INHBA</text></g>
<g id="INHBB"><rect x="1077" y="450" width="36" height="13.5"/><text x="1095" y="460">INHBB</text></g>
<g id="GDF1"><rect x="1077" y="466" width="36" height="13.5"/><text x="1095" y="476">GDF1</text></g>
<g id="GDF3"><rect x="1077" y="483" width="36" height="13.5"/><text x="1095" y="493">GDF3</text></g>
<g id="NODAL"><rect x="1077" y="499" width="36" height="13.5"/><text x="1095" y="509">NODAL</text></g>
<g id="GDF9"><rect x="1077" y="556" width="36" height="13.5"/><text x="1095" y="566">GDF9</text></g>
<g id="INHBC"><rect x="1077" y="584" width="36" height="13.5"/><text x="1095" y="594">INHBC</text></g>
<g id="INHBE"><rect x="1077" y="606" width="36" height="13.5"/><text x="1095" y="616">INHBE</text></g>
<g id="AMH"><rect x="1077" y="656" width="36" height="13.5"/><text x="1095" y="666">AMH</text></g>
<g id="TGFBR1-a"><rect x="1144" y="79" width="37" height="13.5"/><text x="1162.5" y="89">TGFBR1</text></g>
<g id="TGFBR2-a"><rect x="1144" y="92.5" width="37" height="13.5"/><text x="1162.5" y="102.5">TGFBR2</text></g>
<g id="ACVRL1-a"><rect x="1144" y="117" width="37" height="13.5"/><text x="1162.5" y="127">ACVRL1</text></g>
<g id="TGFBR2-b"><rect x="1144" y="130.5" width="37" height="13.5"/><text x="1162.5" y="140.5">TGFBR2</text></g>
<g id="TGFq-a"><rect x="1144" y="150" width="37" height="13.5"/><text x="1162.5" y="160">?</text></g>
<g id="TGFBR2-c"><rect x="1144" y="163.5" width="37" height="13.5"/><text x="1162.5" y="173.5">TGFBR2</text></g>
<g id="ACVRL1-b"><rect x="1144" y="187" width="37" height="13.5"/><text x="1162.5" y="197">ACVRL1</text></g>
<g id="ACVR2A-t1" class="g"><rect x="1144" y="200.5" width="37" height="13.5"/><text x="1162.5" y="210.5">ACVR2A</text></g>
<g id="ACVRL1-c"><rect x="1144" y="223" width="37" height="13.5"/><text x="1162.5" y="233">ACVRL1</text></g>
<g id="BMPR2-t1"><rect x="1144" y="236.5" width="37" height="13.5"/><text x="1162.5" y="246.5">BMPR2</text></g>
<g id="ACVR2A-t2" class="g"><rect x="1144" y="260" width="37" height="13.5"/><text x="1162.5" y="270">ACVR2A</text></g>
<g id="ACVR2B-t1"><rect x="1144" y="284" width="37" height="13.5"/><text x="1162.5" y="294">ACVR2B</text></g>
<g id="TGFBR1-b"><rect x="1144" y="306" width="37" height="13.5"/><text x="1162.5" y="316">TGFBR1</text></g>
<g id="ACVR2A-t3" class="g"><rect x="1144" y="319.5" width="37" height="13.5"/><text x="1162.5" y="329.5">ACVR2A</text></g>
<g id="TGFBR1-c"><rect x="1144" y="346" width="37" height="13.5"/><text x="1162.5" y="356">TGFBR1</text></g>
<g id="ACVR2B-t2"><rect x="1144" y="359.5" width="37" height="13.5"/><text x="1162.5" y="369.5">ACVR2B</text></g>
<g id="ACVR1B-a"><rect x="1144" y="390" width="37" height="13.5"/><text x="1162.5" y="400">ACVR1B</text></g>
<g id="ACVR2A-t4" class="g"><rect x="1144" y="403.5" width="37" height="13.5"/><text x="1162.5" y="413.5">ACVR2A</text></g>
<g id="ACVR1B-b"><rect x="1144" y="448" width="37" height="13.5"/><text x="1162.5" y="458">ACVR1B</text></g>
<g id="ACVR2B-t3"><rect x="1144" y="461.5" width="37" height="13.5"/><text x="1162.5" y="471.5">ACVR2B</text></g>
<g id="ACVR1C-a"><rect x="1144" y="484" width="37" height="13.5"/><text x="1162.5" y="494">ACVR1C</text></g>
<g id="ACVR2A-t5" class="g"><rect x="1144" y="497.5" width="37" height="13.5"/><text x="1162.5" y="507.5">ACVR2A</text></g>
<g id="ACVR1C-b"><rect x="1144" y="518" width="37" height="13.5"/><text x="1162.5" y="528">ACVR1C</text></g>
<g id="ACVR2B-t4"><rect x="1144" y="531.5" width="37" height="13.5"/><text x="1162.5" y="541.5">ACVR2B</text></g>
<g id="ACVR1B-c"><rect x="1144" y="550" width="37" height="13.5"/><text x="1162.5" y="560">ACVR1B</text></g>
<g id="BMPR2-t2"><rect x="1144" y="563.5" width="37" height="13.5"/><text x="1162.5" y="573.5">BMPR2</text></g>
<g id="TGFq-b"><rect x="1144" y="584" width="37" height="13.5"/><text x="1162.5" y="594">?</text></g>
<g id="TGFq-c"><rect x="1144" y="606" width="37" height="13.5"/><text x="1162.5" y="616">?</text></g>
<g id="ACVR1-t"><rect x="1144" y="630" width="37" height="13.5"/><text x="1162.5" y="640">ACVR1</text></g>
<g id="AMHR2-a"><rect x="1144" y="643.5" width="37" height="13.5"/><text x="1162.5" y="653.5">AMHR2</text></g>
<g id="BMPR1A-t"><rect x="1144" y="670" width="37" height="13.5"/><text x="1162.5" y="680">BMPR1A</text></g>
<g id="AMHR2-b"><rect x="1144" y="683.5" width="37" height="13.5"/><text x="1162.5" y="693.5">AMHR2</text></g>
<g id="BMP2"><rect x="1246" y="143" width="36" height="13.5"/><text x="1264" y="153">BMP2</text></g>
<g id="BMP4"><rect x="1246" y="160" width="36" height="13.5"/><text x="1264" y="170">BMP4</text></g>
<g id="GDF5"><rect x="1246" y="177" width="36" height="13.5"/><text x="1264" y="187">GDF5</text></g>
<g id="GDF6"><rect x="1246" y="195" width="36" height="13.5"/><text x="1264" y="205">GDF6</text></g>
<g id="GDF7"><rect x="1246" y="212" width="36" height="13.5"/><text x="1264" y="222">GDF7</text></g>
<g id="BMP15"><rect x="1246" y="296" width="36" height="13.5"/><text x="1264" y="306">BMP15</text></g>
<g id="BMP5"><rect x="1246" y="429" width="36" height="13.5"/><text x="1264" y="439">BMP5</text></g>
<g id="BMP6"><rect x="1246" y="447" width="36" height="13.5"/><text x="1264" y="457">BMP6</text></g>
<g id="BMP7"><rect x="1246" y="466" width="36" height="13.5"/><text x="1264" y="476">BMP7</text></g>
<g id="BMP8"><rect x="1246" y="485" width="36" height="13.5"/><text x="1264" y="495">BMP8</text></g>
<g id="BMPR1A-1"><rect x="1313" y="85" width="36" height="13.5"/><text x="1331" y="95">BMPR1A</text></g>
<g id="ACVR2A-1" class="g"><rect x="1313" y="98.5" width="36" height="13.5"/><text x="1331" y="108.5">ACVR2A</text></g>
<g id="BMPR1A-2"><rect x="1313" y="120" width="36" height="13.5"/><text x="1331" y="130">BMPR1A</text></g>
<g id="ACVR2B-2"><rect x="1313" y="133.5" width="36" height="13.5"/><text x="1331" y="143.5">ACVR2B</text></g>
<g id="BMPR1A-3"><rect x="1313" y="155" width="36" height="13.5"/><text x="1331" y="165">BMPR1A</text></g>
<g id="BMPR2-3"><rect x="1313" y="168.5" width="36" height="13.5"/><text x="1331" y="178.5">BMPR2</text></g>
<g id="BMPR1B-4"><rect x="1313" y="190" width="36" height="13.5"/><text x="1331" y="200">BMPR1B</text></g>
<g id="ACVR2A-4" class="g"><rect x="1313" y="203.5" width="36" height="13.5"/><text x="1331" y="213.5">ACVR2A</text></g>
<g id="BMPR1B-5"><rect x="1313" y="225" width="36" height="13.5"/><text x="1331" y="235">BMPR1B</text></g>
<g id="ACVR2B-5"><rect x="1313" y="238.5" width="36" height="13.5"/><text x="1331" y="248.5">ACVR2B</text></g>
<g id="BMPR1B-6"><rect x="1313" y="262" width="36" height="13.5"/><text x="1331" y="272">BMPR1B</text></g>
<g id="BMPR2-6"><rect x="1313" y="275.5" width="36" height="13.5"/><text x="1331" y="285.5">BMPR2</text></g>
<g id="ACVR1-7"><rect x="1313" y="302" width="36" height="13.5"/><text x="1331" y="312">ACVR1</text></g>
<g id="ACVR2A-7" class="g"><rect x="1313" y="315.5" width="36" height="13.5"/><text x="1331" y="325.5">ACVR2A</text></g>
<g id="ACVR1-8"><rect x="1313" y="337" width="36" height="13.5"/><text x="1331" y="347">ACVR1</text></g>
<g id="ACVR2B-8"><rect x="1313" y="350.5" width="36" height="13.5"/><text x="1331" y="360.5">ACVR2B</text></g>
<g id="ACVR1-9"><rect x="1313" y="374" width="36" height="13.5"/><text x="1331" y="384">ACVR1</text></g>
<g id="BMPR2-9"><rect x="1313" y="387.5" width="36" height="13.5"/><text x="1331" y="397.5">BMPR2</text></g>
<g id="BMPR1A-10"><rect x="1313" y="414" width="36" height="13.5"/><text x="1331" y="424">BMPR1A</text></g>
<g id="ACVR2A-10" class="g"><rect x="1313" y="427.5" width="36" height="13.5"/><text x="1331" y="437.5">ACVR2A</text></g>
<g id="BMPR1A-11"><rect x="1313" y="448" width="36" height="13.5"/><text x="1331" y="458">BMPR1A</text></g>
<g id="ACVR2B-11"><rect x="1313" y="461.5" width="36" height="13.5"/><text x="1331" y="471.5">ACVR2B</text></g>
<g id="BMPR1A-12"><rect x="1313" y="484" width="36" height="13.5"/><text x="1331" y="494">BMPR1A</text></g>
<g id="BMPR2-12"><rect x="1313" y="497.5" width="36" height="13.5"/><text x="1331" y="507.5">BMPR2</text></g>
<g id="BMPR1B-13"><rect x="1313" y="518" width="36" height="13.5"/><text x="1331" y="528">BMPR1B</text></g>
<g id="ACVR2A-13" class="g"><rect x="1313" y="531.5" width="36" height="13.5"/><text x="1331" y="541.5">ACVR2A</text></g>
<g id="BMPR1B-14"><rect x="1313" y="553" width="36" height="13.5"/><text x="1331" y="563">BMPR1B</text></g>
<g id="ACVR2B-14"><rect x="1313" y="566.5" width="36" height="13.5"/><text x="1331" y="576.5">ACVR2B</text></g>
<g id="BMPR1B-15"><rect x="1313" y="590" width="36" height="13.5"/><text x="1331" y="600">BMPR1B</text></g>
<g id="BMPR2-15"><rect x="1313" y="603.5" width="36" height="13.5"/><text x="1331" y="613.5">BMPR2</text></g>
</g>
</svg>
